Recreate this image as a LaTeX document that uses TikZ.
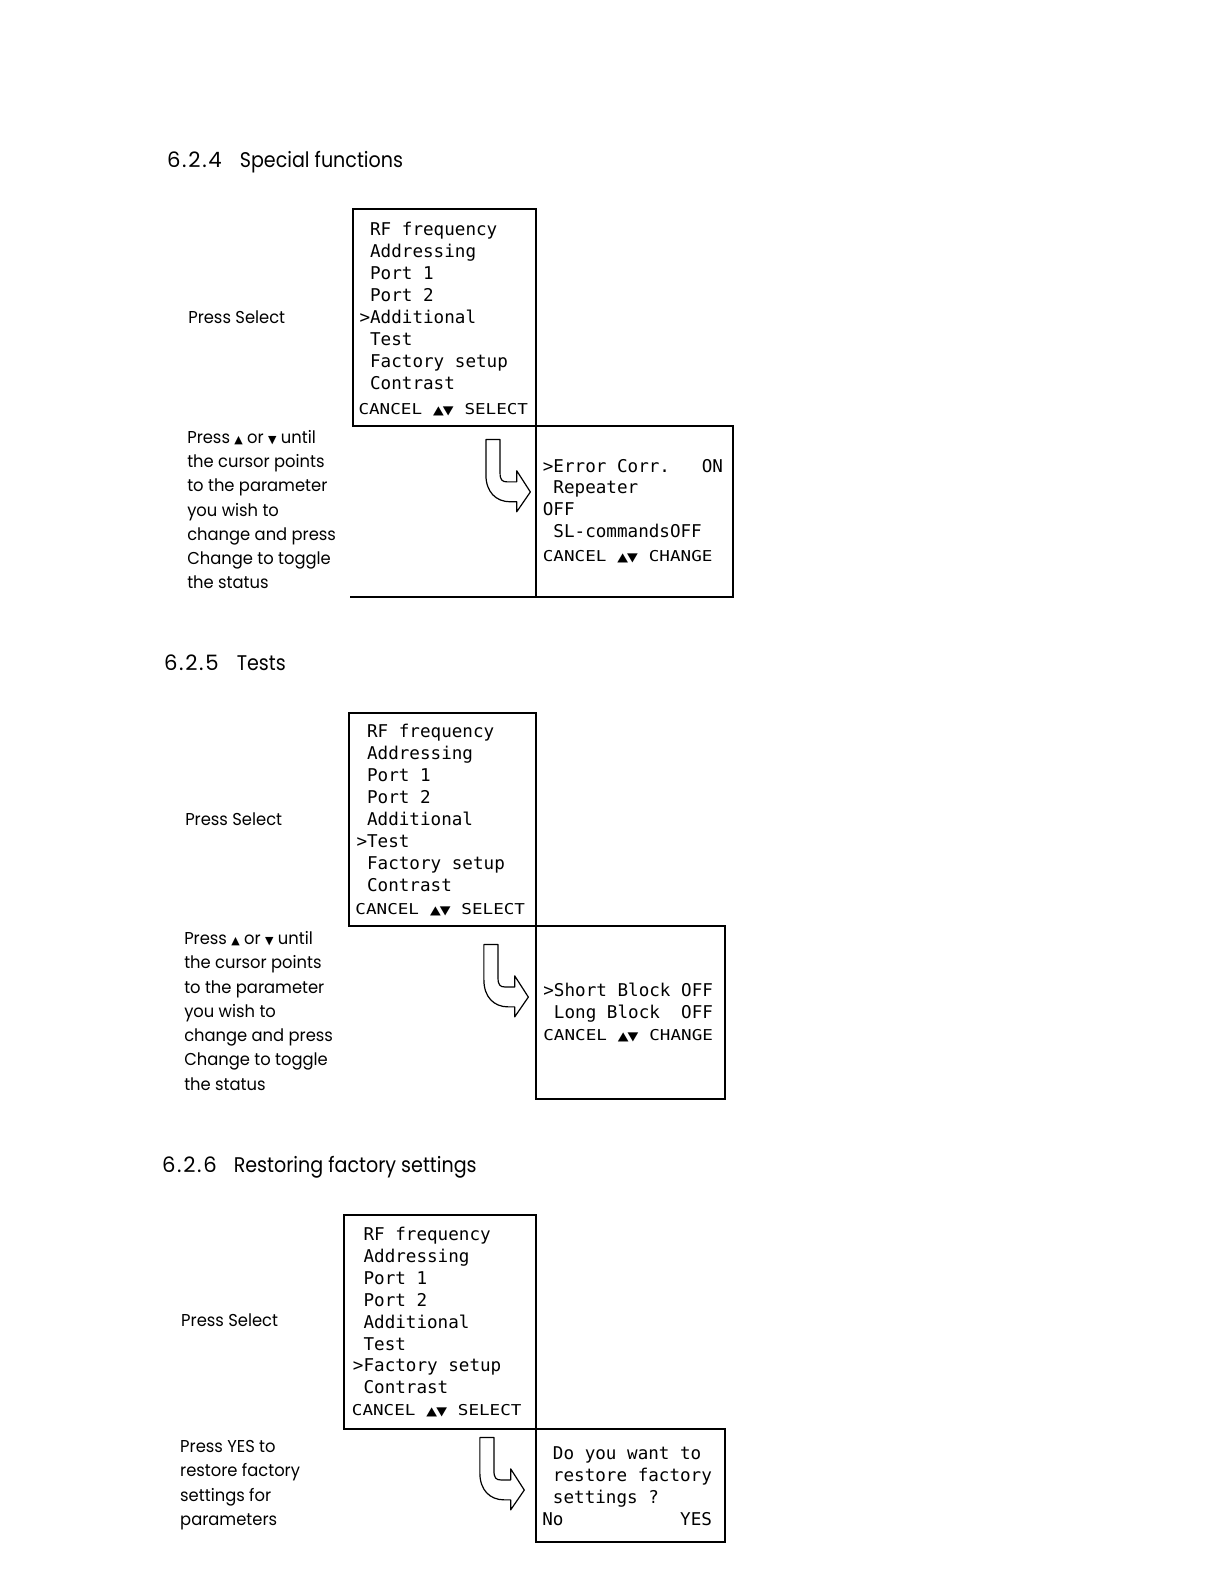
\documentclass[tikz,border=0pt]{standalone}
\usepackage{fontspec}
\setmainfont{Poppins}
\newfontfamily\bodyfont[FakeStretch=0.95]{Poppins}
\newfontfamily\headfont[FakeStretch=0.9]{Poppins}
\newfontfamily\numfont[LetterSpace=8]{Poppins}
\newfontfamily\lcd{DejaVu Sans Mono}
\newfontfamily\symf{DejaVu Sans}
\newcommand\bodyup{{\symf\fontsize{5.5}{6}\selectfont ▲}}
\newcommand\bodydn{{\symf\fontsize{5.5}{6}\selectfont ▼}}
\newcommand\lcdupdn{\makebox[10.6pt][c]{\symf\fontsize{7}{7}\selectfont ▲\kern-0.5pt▼}}
\newcommand\lcdsmall[1]{\scalebox{1}[0.85]{#1}}
\tikzset{
  lcdbox/.style={draw, line width=1pt},
  lcdtext/.style={anchor=base west, inner sep=0pt, font=\lcd\fontsize{8.8}{10}\selectfont},
  bodytext/.style={anchor=base west, inner sep=0pt, font=\bodyfont\fontsize{8.6}{10}\selectfont},
  headtext/.style={anchor=base west, inner sep=0pt, font=\headfont\fontsize{10.6}{13}\selectfont},
  headnum/.style={anchor=base west, inner sep=0pt, font=\numfont\fontsize{10.6}{13}\selectfont},
  bentarrow/.pic={\draw[line width=0.6pt, line join=round]
     (0,0) -- (14,0) -- (14,33) .. controls (14,40) and (16,42) .. (21,42)
     -- (30.5,42) -- (30.5,31) -- (44,52) -- (30.5,71.6) -- (30.5,61.7)
     -- (24,61.7) .. controls (10,61.7) and (0,52) .. (0,35) -- cycle;}
}
\begin{document}
\begin{tikzpicture}[x=0.505pt,y=-0.505pt]
\useasboundingbox (0,0) rectangle (1212,1568);

% ---------------- 6.2.4 ----------------
\node[headnum] (h1n) at (165,165.5) {6.2.4};
\node[headtext] (h1) at (237,165.5) {Special functions};
\node[bodytext] (s1a) at (186,320) {Press Select};
\node[bodytext] (s1b) at (185,439) {Press \bodyup{} or \bodydn{} until};
\node[bodytext] (s1c) at (185,463) {the cursor points};
\node[bodytext] (s1d) at (185,487) {to the parameter};
\node[bodytext] (s1e) at (185,511) {you wish to};
\node[bodytext] (s1f) at (185,535) {change and press};
\node[bodytext] (s1g) at (185,559) {Change to toggle};
\node[bodytext] (s1h) at (185,583) {the status};

\draw[lcdbox] (349.5,207) rectangle (530.7,421.8);
\draw[lcdbox] (530.7,421.8) rectangle (725.7,590.5);
\draw[lcdbox] (346.5,590.5) -- (530.7,590.5);

\node[lcdtext] (m1a) at (355.5,233.4) {~RF frequency};
\node[lcdtext] (m1b) at (355.5,255.2) {~Addressing};
\node[lcdtext] (m1c) at (355.5,277.0) {~Port 1};
\node[lcdtext] (m1d) at (355.5,298.8) {~Port 2};
\node[lcdtext] (m1e) at (355.5,320.6) {>Additional};
\node[lcdtext] (m1f) at (355.5,342.4) {~Test};
\node[lcdtext] (m1g) at (355.5,364.2) {~Factory setup};
\node[lcdtext] (m1h) at (355.5,386.0) {~Contrast};
\node[lcdtext] (m1i) at (354.5,410.0) {\lcdsmall{CANCEL \lcdupdn{} SELECT}};

\node[lcdtext] (a1a) at (537,467.4) {>Error Corr.~~~ON};
\node[lcdtext] (a1b) at (537,488.4) {~Repeater};
\node[lcdtext] (a1c) at (537,509.9) {OFF};
\node[lcdtext] (a1d) at (537,532.4) {~SL-commandsOFF};
\node[lcdtext] (a1e) at (537,555.4) {\lcdsmall{CANCEL \lcdupdn{} CHANGE}};

\pic at (481,435) {bentarrow};

% ---------------- 6.2.5 ----------------
\node[headnum] (h2n) at (162,663.5) {6.2.5};
\node[headtext] (h2) at (234,663.5) {Tests};
\node[bodytext] (s2a) at (183,817) {Press Select};
\node[bodytext] (s2b) at (182,935) {Press \bodyup{} or \bodydn{} until};
\node[bodytext] (s2c) at (182,959) {the cursor points};
\node[bodytext] (s2d) at (182,983) {to the parameter};
\node[bodytext] (s2e) at (182,1007) {you wish to};
\node[bodytext] (s2f) at (182,1031) {change and press};
\node[bodytext] (s2g) at (182,1055) {Change to toggle};
\node[bodytext] (s2h) at (182,1079) {the status};

\draw[lcdbox] (345,706) rectangle (530.7,916.8);
\draw[lcdbox] (530.7,916.8) rectangle (717.8,1088);

\node[lcdtext] (m2a) at (352.5,730.2) {~RF frequency};
\node[lcdtext] (m2b) at (352.5,751.9) {~Addressing};
\node[lcdtext] (m2c) at (352.5,773.6) {~Port 1};
\node[lcdtext] (m2d) at (352.5,795.3) {~Port 2};
\node[lcdtext] (m2e) at (352.5,817.0) {~Additional};
\node[lcdtext] (m2f) at (352.5,838.7) {>Test};
\node[lcdtext] (m2g) at (352.5,860.4) {~Factory setup};
\node[lcdtext] (m2h) at (352.5,882.1) {~Contrast};
\node[lcdtext] (m2i) at (351.5,905.3) {\lcdsmall{CANCEL \lcdupdn{} SELECT}};

\node[lcdtext] (a2a) at (537.5,986.6) {>Short Block OFF};
\node[lcdtext] (a2b) at (537.5,1008.0) {~Long Block~~OFF};
\node[lcdtext] (a2c) at (537.5,1030.2) {\lcdsmall{CANCEL \lcdupdn{} CHANGE}};

\pic at (479,935) {bentarrow};

% ---------------- 6.2.6 ----------------
\node[headnum] (h3n) at (160,1160.5) {6.2.6};
\node[headtext] (h3) at (231,1160.5) {Restoring factory settings};
\node[bodytext] (s3a) at (179,1313) {Press Select};
\node[bodytext] (s3b) at (178,1438) {Press YES to};
\node[bodytext] (s3c) at (178,1462) {restore factory};
\node[bodytext] (s3d) at (178,1486) {settings for};
\node[bodytext] (s3e) at (178,1510) {parameters};

\draw[lcdbox] (341,1203) rectangle (530.4,1414.5);
\draw[lcdbox] (530.4,1414.5) rectangle (717.5,1526);

\node[lcdtext] (m3a) at (349,1228.4) {~RF frequency};
\node[lcdtext] (m3b) at (349,1250.0) {~Addressing};
\node[lcdtext] (m3c) at (349,1271.6) {~Port 1};
\node[lcdtext] (m3d) at (349,1293.2) {~Port 2};
\node[lcdtext] (m3e) at (349,1314.8) {~Additional};
\node[lcdtext] (m3f) at (349,1336.4) {~Test};
\node[lcdtext] (m3g) at (349,1358.0) {>Factory setup};
\node[lcdtext] (m3h) at (349,1379.6) {~Contrast};
\node[lcdtext] (m3i) at (348,1401.4) {\lcdsmall{CANCEL \lcdupdn{} SELECT}};

\node[lcdtext] (a3a) at (536.5,1444.4) {~Do you want to};
\node[lcdtext] (a3b) at (536.5,1466.4) {~restore factory};
\node[lcdtext] (a3c) at (536.5,1488.4) {~settings ?};
\node[lcdtext] (a3d) at (536.5,1510.4) {No~~~~~~~~~~~YES};

\pic at (475,1423) {bentarrow};
\end{tikzpicture}
\end{document}
